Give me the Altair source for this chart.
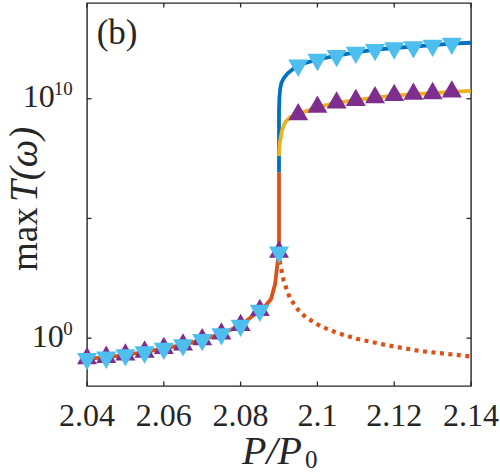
import altair as alt
import pandas as pd

# ---- data (log10 of max T(omega)) ----
# lower stable branch, markers of both sweeps coincide here
x_lower_mk = [2.040, 2.045, 2.050, 2.055, 2.060, 2.065, 2.070, 2.075, 2.080, 2.085, 2.090]
log_lower_mk = [-0.86, -0.80, -0.70, -0.58, -0.43, -0.28, -0.06, 0.18, 0.53, 1.16, 3.59]

# upper branch markers
x_upper_mk = [2.095, 2.100, 2.105, 2.110, 2.115, 2.120, 2.125, 2.130, 2.135]
log_upper_down = [11.40, 11.64, 11.80, 11.94, 12.05, 12.12, 12.17, 12.23, 12.31]
log_upper_up = [9.34, 9.65, 9.83, 9.93, 10.05, 10.14, 10.19, 10.22, 10.29]

# solid lower branch (orange)
x_lower_line = [2.040, 2.045, 2.050, 2.055, 2.060, 2.065, 2.070, 2.075, 2.080, 2.085,
                2.0865, 2.0879, 2.0890, 2.0897, 2.0900, 2.0900]
log_lower_line = [-0.86, -0.80, -0.70, -0.58, -0.43, -0.28, -0.06, 0.18, 0.53, 1.16,
                  1.36, 1.62, 2.27, 3.25, 3.59, 6.93]

# unstable branch (orange, dotted)
x_unstable = [2.0900, 2.0901, 2.0903, 2.0912, 2.0921, 2.0929, 2.0951, 2.0969, 2.1008,
              2.1051, 2.1103, 2.1182, 2.1268, 2.1400]
log_unstable = [3.59, 3.35, 3.11, 2.41, 1.99, 1.65, 1.16, 0.88, 0.50,
                0.22, -0.03, -0.30, -0.54, -0.77]

# upper branch, first sweep (blue)
x_upper_a = [2.0900, 2.0900, 2.0901, 2.0903, 2.0906, 2.0912, 2.0922, 2.0935, 2.0950,
             2.1000, 2.1050, 2.1100, 2.1150, 2.1200, 2.1250, 2.1300, 2.1350, 2.1400]
log_upper_a = [6.93, 9.50, 10.05, 10.40, 10.65, 10.85, 11.05, 11.22, 11.40,
               11.64, 11.80, 11.94, 12.05, 12.12, 12.18, 12.24, 12.30, 12.34]

# upper branch, second sweep (yellow)
x_upper_b = [2.0900, 2.0901, 2.0903, 2.0908, 2.0916, 2.0929, 2.0950, 2.1000, 2.1050,
             2.1100, 2.1150, 2.1200, 2.1250, 2.1300, 2.1350, 2.1400]
log_upper_b = [7.60, 7.95, 8.25, 8.68, 9.02, 9.23, 9.36, 9.65, 9.83,
               9.94, 10.05, 10.13, 10.19, 10.23, 10.29, 10.33]

x_ticks = [2.04, 2.06, 2.08, 2.10, 2.12, 2.14]
x_tick_labels = ["2.04", "2.06", "2.08", "2.1", "2.12", "2.14"]
y_ticks = [1e0, 1e5, 1e10]
y_label_vals = [1e0, 1e10]
y_label_exps = ["0", "10"]

# ---- styling ----
W, H = 384, 383
SERIF = "Liberation Serif"
INK = "#262626"
C_BLUE, C_ORANGE, C_YELLOW = "#0072BD", "#D95319", "#EDB120"
C_PURPLE, C_CYAN = "#7E2F8E", "#4DBEEE"

xs = alt.Scale(domain=[2.04, 2.14], nice=False, zero=False)
ys = alt.Scale(type="log", domain=[0.01, 1e14], nice=False)


def X(field="x"):
    return alt.X(f"{field}:Q", scale=xs, axis=None)


def Y(field="T"):
    return alt.Y(f"{field}:Q", scale=ys, axis=None)


def frame(xv, logv):
    return pd.DataFrame({"x": xv, "T": [10.0 ** v for v in logv], "i": list(range(len(xv)))})


def line(df, color, dash=None):
    kw = dict(color=color, strokeWidth=3.8)
    if dash:
        kw.update(strokeDash=dash, strokeCap="butt", strokeWidth=4.2)
    return alt.Chart(df).mark_line(**kw).encode(x=X(), y=Y(), order="i:Q")


def markers(df, shape, color, offset):
    return alt.Chart(df).mark_point(
        shape=shape, filled=True, size=400, color=color, opacity=1, yOffset=offset
    ).encode(x=X(), y=Y())


# inward ticks on all four sides
tick_len = 4.5
xt = pd.DataFrame({"x": x_ticks, "lab": x_tick_labels})
yt = pd.DataFrame({"T": y_ticks})
tick_style = dict(color=INK, strokeWidth=1.3)
ticks = [
    alt.Chart(xt).mark_rule(**tick_style).encode(x=X(), y=alt.value(H), y2=alt.value(H - tick_len)),
    alt.Chart(xt).mark_rule(**tick_style).encode(x=X(), y=alt.value(0), y2=alt.value(tick_len)),
    alt.Chart(yt).mark_rule(**tick_style).encode(y=Y(), x=alt.value(0), x2=alt.value(tick_len)),
    alt.Chart(yt).mark_rule(**tick_style).encode(y=Y(), x=alt.value(W), x2=alt.value(W - tick_len)),
]

# x tick labels
xlabels = alt.Chart(xt).mark_text(
    align="center", baseline="alphabetic", font=SERIF, fontSize=32, color=INK
).encode(x=X(), y=alt.value(H + 40), text="lab:N")

# y tick labels: 10 with a raised exponent
ylab = pd.DataFrame({"T": y_label_vals, "exp": y_label_exps, "base": ["10"] * len(y_label_vals)})
ylabels = []
for e in y_label_exps:
    src = alt.Chart(ylab).transform_filter(f"datum.exp == '{e}'")
    ylabels.append(
        src.mark_text(align="right", baseline="alphabetic", font=SERIF, fontSize=32, color=INK, dy=8.4)
        .encode(y=Y(), x=alt.value(-14.3 - 9.0 * len(e)), text="base:N")
    )
    ylabels.append(
        src.mark_text(align="right", baseline="alphabetic", font=SERIF, fontSize=19, color=INK, dy=-3.3)
        .encode(y=Y(), x=alt.value(-14.3), text="exp:N")
    )

# titles and panel tag
titles = pd.DataFrame({"t": ["(b)", "P/P", "0", "max", "T(ω)"]})


def label(text, x, y, size, style="normal", angle=0, align="center"):
    kw = dict(font=SERIF, fontSize=size, fontStyle=style, color=INK,
              align=align, baseline="alphabetic", angle=angle)
    return (alt.Chart(titles).transform_filter(alt.datum.t == text)
            .mark_text(**kw).encode(x=alt.value(x), y=alt.value(y), text="t:N"))


texts = [
    label("(b)", 9.7, 40.5, 35, align="left"),
    label("P/P", 185, 461, 40, style="italic"),
    label("0", 218, 465, 25, align="left"),
    label("max", -50, 268, 37, align="left", angle=270),
    label("T(ω)", -50, 199, 39, style="italic", align="left", angle=270),
]

layers = ticks + [
    line(frame(x_lower_line, log_lower_line), C_ORANGE),
    line(frame(x_unstable, log_unstable), C_ORANGE, dash=[4, 4.5]),
    line(frame(x_upper_a, log_upper_a), C_BLUE),
    line(frame(x_upper_b, log_upper_b), C_YELLOW),
    markers(frame(x_lower_mk, log_lower_mk), "triangle-up", C_PURPLE, -3),
    markers(frame(x_upper_mk, log_upper_up), "triangle-up", C_PURPLE, -3),
    markers(frame(x_lower_mk, log_lower_mk), "triangle-down", C_CYAN, 3),
    markers(frame(x_upper_mk, log_upper_down), "triangle-down", C_CYAN, 3),
    xlabels,
] + ylabels + texts

chart = (
    alt.layer(*layers)
    .properties(
        width=W, height=H,
        autosize=alt.AutoSizeParams(type="none"),
        padding={"left": 87, "top": 3, "right": 29, "bottom": 87},
        background="white",
    )
    .configure_view(stroke=INK, strokeWidth=1.4)
)

chart.save("out.html", embed_options={"renderer": "svg", "actions": False})
